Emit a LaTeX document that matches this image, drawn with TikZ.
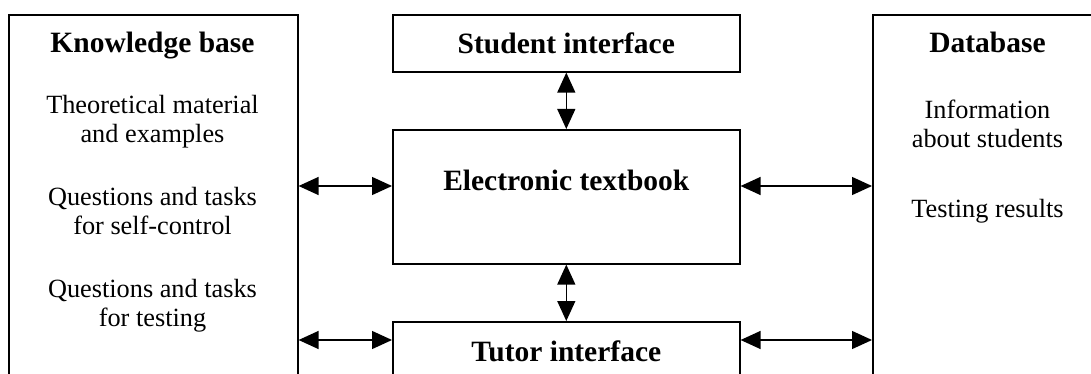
\documentclass[tikz,border=0pt]{standalone}
\usepackage{fontspec}
\setmainfont{Liberation Serif}
\usetikzlibrary{arrows.meta, positioning, calc}
\tikzset{
	block/.style={rectangle, draw=black, line width=1.6pt, inner sep=0pt, align=center, font=\bfseries\fontsize{29.5}{33}\selectfont},
	sideblock/.style={block, minimum width=289pt, minimum height=430pt, anchor=north west},
	midblock/.style={block, minimum width=347pt, anchor=north west},
	heading/.style={inner sep=0pt, anchor=base, font=\bfseries\fontsize{29.5}{33}\selectfont},
	entry/.style={inner sep=0pt, anchor=base, align=center, font=\fontsize{26.3}{29}\selectfont},
	biarrow/.style={{Triangle[length=20pt, width=18pt]}-{Triangle[length=20pt, width=18pt]}, line width=1.3pt, draw=black},
}
\begin{document}
\begin{tikzpicture}[x=1pt, y=-1pt]
		\useasboundingbox (0,0) rectangle (1091,374);
		\clip (0,0) rectangle (1091,374);
		% side blocks
		\node[sideblock] (kb) at (8,14) {};
		\node[sideblock, minimum width=231pt] (db) at (872,14) {};
		% middle blocks
		\node[midblock, minimum height=57pt] (stud) at (392,14) {Student interface};
		\node[midblock, minimum height=134pt, text height=20pt, text depth=32pt] (etext) at (392,129) {Electronic textbook};
		\node[midblock, minimum height=58pt] (tutor) at (392,321) {Tutor interface};
		% texts of the knowledge base (base = last line)
		\node[heading] (kbtitle) at (152.5,52.5) {Knowledge base};
		\node[entry] (kbtheory) at (152.5,143) {Theoretical material\\and examples};
		\node[entry] (kbself) at (152.5,234) {Questions and tasks\\for self-control};
		\node[entry] (kbtest) at (152.5,326) {Questions and tasks\\for testing};
		% texts of the database
		\node[heading] (dbtitle) at (987.5,52.5) {Database};
		\node[entry] (dbinfo) at (987.5,148) {Information\\about students};
		\node[entry] (dbres) at (987.5,217) {Testing results};
		% connectors
		\coordinate (etin) at ([yshift=-57pt]etext.north west);
		\coordinate (tutin) at ([yshift=-19pt]tutor.north west);
		\draw[biarrow] (stud.south) -- (etext.north);
		\draw[biarrow] (etext.south) -- (tutor.north);
		\draw[biarrow] (kb.east |- etin) -- (etin);
		\draw[biarrow] (etext.east |- etin) -- (db.west |- etin);
		\draw[biarrow] (kb.east |- tutin) -- (tutin);
		\draw[biarrow] (tutor.east |- tutin) -- (db.west |- tutin);
	\end{tikzpicture}
\end{document}
